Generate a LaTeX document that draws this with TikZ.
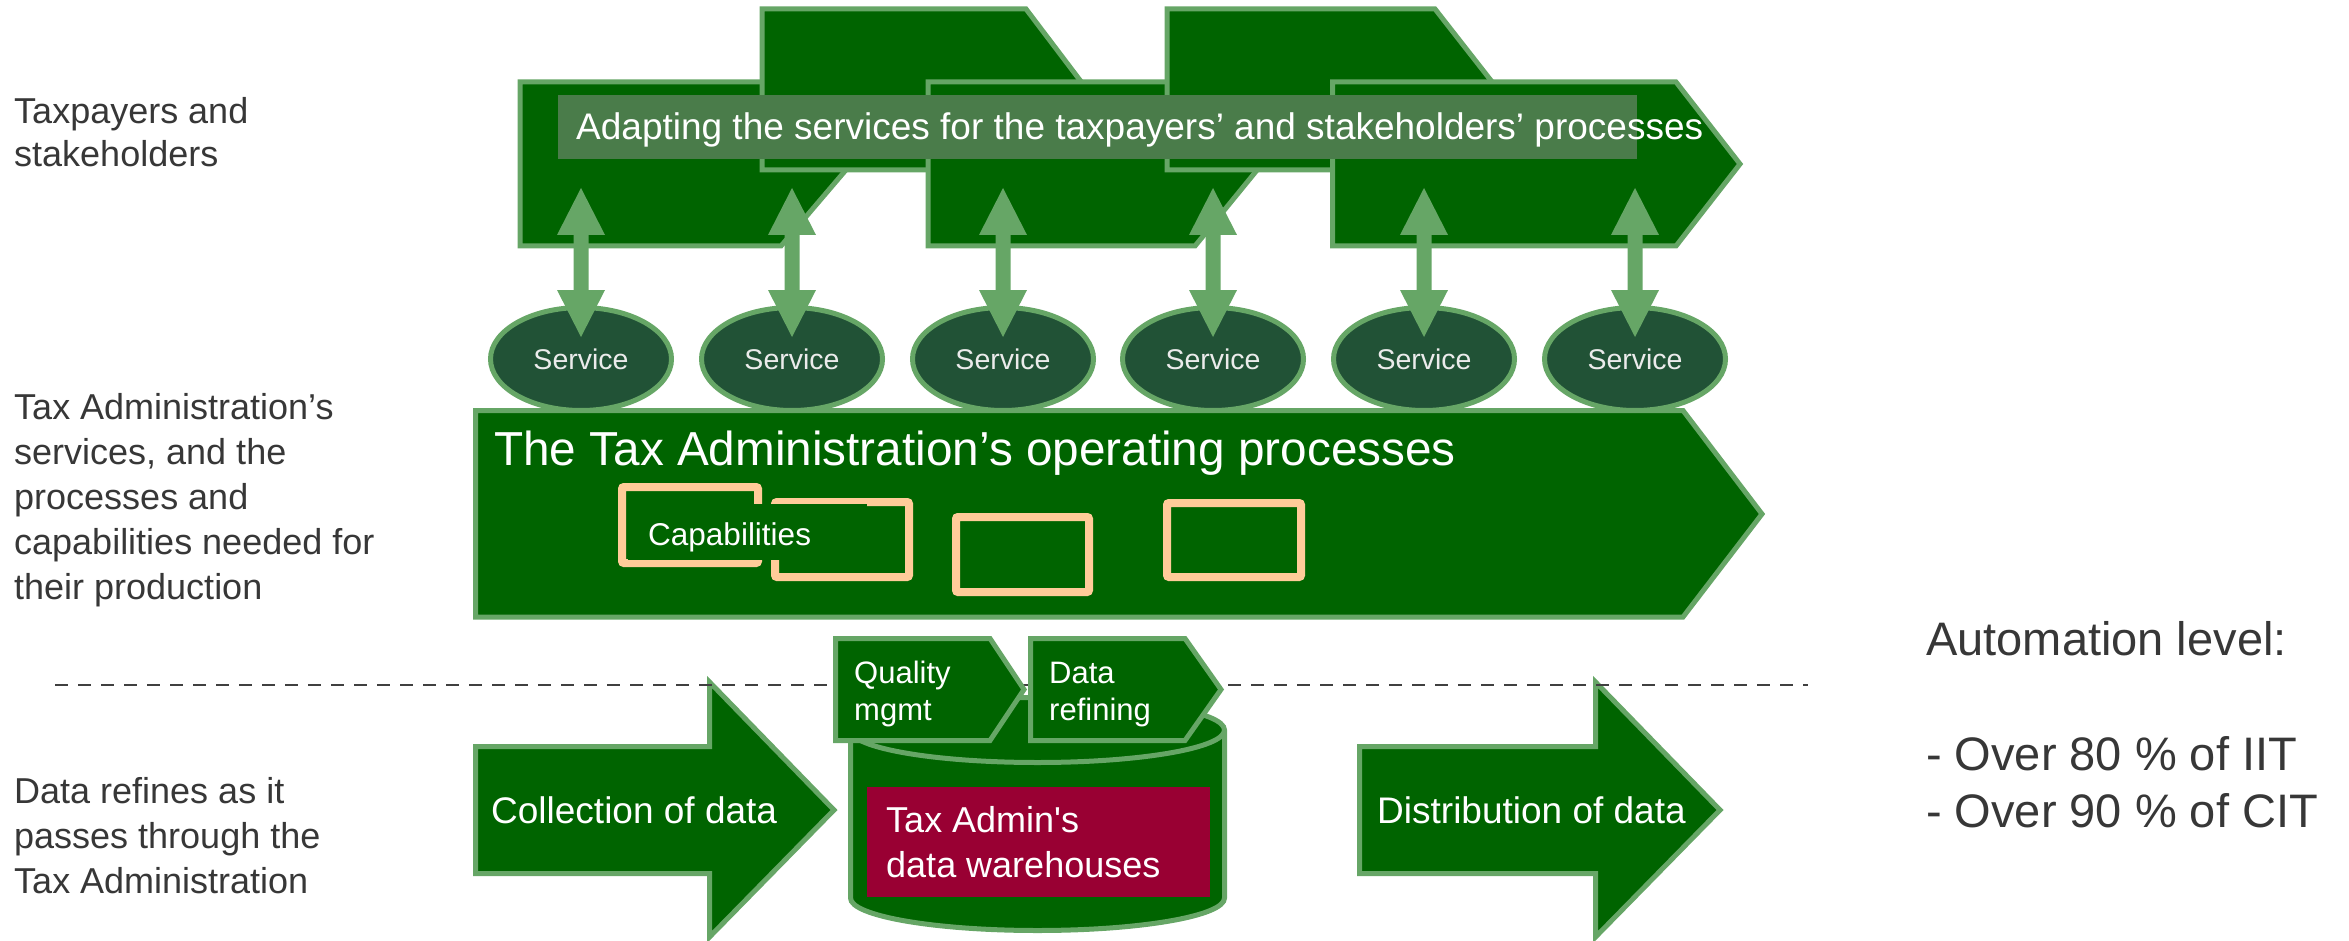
\documentclass[tikz,border=0pt]{standalone}
\usepackage{fontspec}
\newfontfamily\arial{Liberation Sans}
\usetikzlibrary{shapes.geometric,calc}

\definecolor{plategreen}{RGB}{0,100,0}
\definecolor{edgegreen}{RGB}{102,166,102}
\definecolor{svcgreen}{RGB}{33,82,54}
\definecolor{bandgreen}{RGB}{74,124,74}
\definecolor{capedge}{RGB}{255,204,153}
\definecolor{wine}{RGB}{153,0,51}
\definecolor{labelgray}{RGB}{55,55,55}
\definecolor{dashgray}{RGB}{64,64,64}

% font size / baseline skip in points
\newcommand\fsz[2]{\fontsize{#1pt}{#2pt}\selectfont}

% two-headed link between an upper tip #1 and a lower tip #2
\newcommand\biarrow[2]{%
  \fill[linkfill] (#1) -- ++(24,47) -- ++(-16.5,0)
    -- ($(#2)+(7.5,-47)$) -- ++(16.5,0) -- (#2)
    -- ++(-24,-47) -- ++(16.5,0)
    -- ($(#1)+(-7.5,47)$) -- ++(-16.5,0) -- cycle;}

\tikzset{
  plate/.style={draw=edgegreen, fill=plategreen, line width=5pt, line join=miter},
  svc/.style={ellipse, draw=edgegreen, fill=svcgreen, line width=5pt,
    minimum width=181pt, minimum height=103pt, inner sep=0pt,
    text=white!92!black, font=\arial\fsz{28.5}{30}},
  linkfill/.style={fill=edgegreen},
  capbox/.style={draw=capedge, line width=8pt, rounded corners=2pt},
  wtext/.style={text=white, inner sep=0pt, anchor=base west},
  sidelabel/.style={text=labelgray, inner sep=0pt, anchor=base west},
}

\begin{document}
\begin{tikzpicture}[x=1pt, y=-1pt]
\useasboundingbox (0,0) rectangle (2349,941);

% ---- taxpayers' and stakeholders' processes (overlapping chevrons)
\draw[plate] (520,82) -- (781,82) -- (851,164) -- (781,246) -- (520,246) -- cycle;
\draw[plate] (762,9) -- (1026,9) -- (1087,89.5) -- (1026,170) -- (762,170) -- cycle;
\draw[plate] (928,82) -- (1195,82) -- (1262,164) -- (1195,246) -- (928,246) -- cycle;
\draw[plate] (1167,9) -- (1435,9) -- (1498,89.5) -- (1435,170) -- (1167,170) -- cycle;
\draw[plate] (1332.5,82) -- (1676,82) -- (1740,164) -- (1676,246) -- (1332.5,246) -- cycle;

\fill[bandgreen] (558,95) rectangle (1637,159);
\node[wtext, font=\arial\fsz{37}{40}] (bandtext) at (576,140)
  {Adapting the services for the taxpayers’ and stakeholders’ processes};

% ---- operating processes
\draw[plate] (475.5,410.5) -- (1683,410.5) -- (1762,514) -- (1683,617) -- (475.5,617) -- cycle;
\node[wtext, font=\arial\fsz{47.7}{50}] (optext) at (494,465)
  {The Tax Administration’s operating processes};

% ---- services and their links upwards
\foreach \i/\x in {1/581,2/792,3/1003,4/1213,5/1424,6/1635} {
  \node[svc] (svc\i) at (\x,359) {Service};
  \coordinate (up\i) at (\x,188);
  \coordinate (dn\i) at ($(svc\i.center)+(0,-22)$);
  \biarrow{up\i}{dn\i}
}

% ---- capabilities
\draw[capbox] (622,487) rectangle (758,563);
\draw[capbox] (775,502) rectangle (909,577);
\draw[capbox] (956,517) rectangle (1089,592);
\draw[capbox] (1167,503) rectangle (1301,577);
\fill[plategreen] (628,504) rectangle (867,560);
\node[wtext, font=\arial\fsz{31.5}{34}] (captext) at (648,545) {Capabilities};

% ---- data flow
\draw[plate] (475.5,746.5) -- (709.5,746.5) -- (709.5,682) -- (834,810) -- (709.5,937)
  -- (709.5,873.5) -- (475.5,873.5) -- cycle;
\node[wtext, font=\arial\fsz{37}{40}] (collect) at (491,823) {Collection of data};

\draw[plate] (1359.5,746.5) -- (1595.5,746.5) -- (1595.5,682) -- (1720,810) -- (1595.5,937)
  -- (1595.5,873.5) -- (1359.5,873.5) -- cycle;
\node[wtext, font=\arial\fsz{37}{40}] (distrib) at (1377,823) {Distribution of data};

\draw[dashgray, line width=2pt, dash pattern=on 13pt off 10pt] (55,685) -- (1808,685);

% data warehouse cylinder
\draw[plate] (850.5,730) -- (850.5,898)
  .. controls (850.5,915.95) and (934.2,930.5) .. (1037.5,930.5)
  .. controls (1140.8,930.5) and (1224.5,915.95) .. (1224.5,898)
  -- (1224.5,730)
  .. controls (1224.5,712.05) and (1140.8,697.5) .. (1037.5,697.5)
  .. controls (934.2,697.5) and (850.5,712.05) .. (850.5,730) -- cycle;
\draw[edgegreen, line width=5pt] (850.5,730)
  .. controls (850.5,747.95) and (934.2,762.5) .. (1037.5,762.5)
  .. controls (1140.8,762.5) and (1224.5,747.95) .. (1224.5,730);
\fill[wine] (867,787) rectangle (1210,897);
\node[wtext, font=\arial\fsz{36}{45}] (dwh) at (886,832)
  {\parbox[t]{320pt}{Tax Admin's\\data warehouses}};

% quality and refining steps
\draw[plate] (835.5,638.5) -- (990,638.5) -- (1024,689.5) -- (990,740.5) -- (835.5,740.5) -- cycle;
\draw[plate] (1030.5,638.5) -- (1185,638.5) -- (1221,689.5) -- (1185,740.5) -- (1030.5,740.5) -- cycle;
\node[wtext, font=\arial\fsz{31}{37}] (quality) at (854,683) {\parbox[t]{150pt}{Quality\\mgmt}};
\node[wtext, font=\arial\fsz{31}{37}] (refine) at (1049,683) {\parbox[t]{150pt}{Data\\refining}};

% ---- side labels
\node[sidelabel, font=\arial\fsz{36}{43}] (lvl1) at (14,124)
  {\parbox[t]{420pt}{Taxpayers and\\stakeholders}};
\node[sidelabel, font=\arial\fsz{36}{45}] (lvl2) at (14,419)
  {\parbox[t]{420pt}{Tax Administration’s\\services, and the\\processes and\\capabilities needed for\\their production}};
\node[sidelabel, font=\arial\fsz{36}{45}] (lvl3) at (14,803)
  {\parbox[t]{420pt}{Data refines as it\\passes through the\\Tax Administration}};

\node[sidelabel, font=\arial\fsz{47}{57.5}] (auto) at (1926,655)
  {\parbox[t]{420pt}{Automation level:\\\mbox{}\\- Over 80 \% of IIT\\- Over 90 \% of CIT}};
\end{tikzpicture}
\end{document}
